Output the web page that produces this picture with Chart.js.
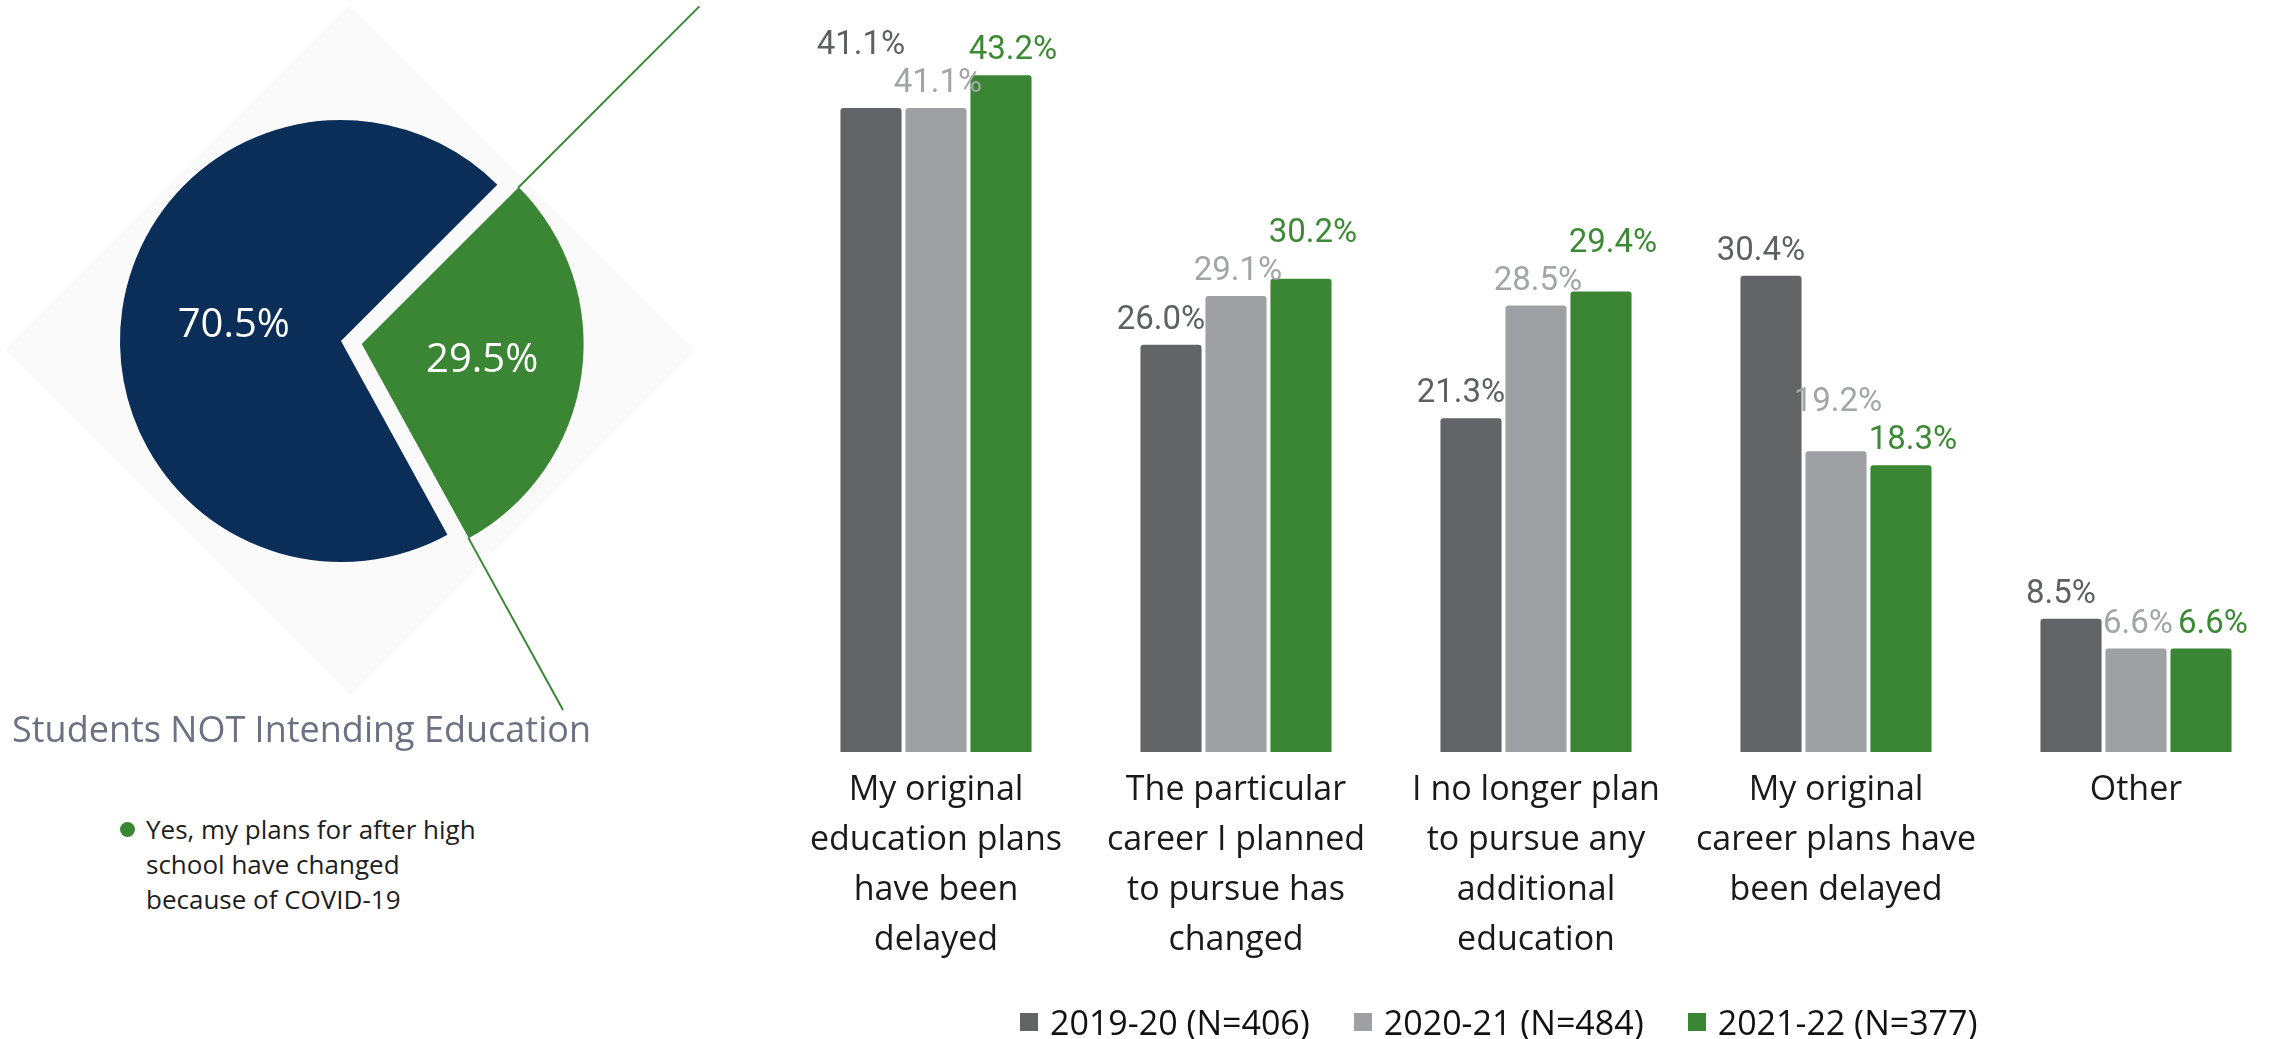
<!DOCTYPE html>
<html>
<head>
<meta charset="utf-8">
<script src="https://cdn.jsdelivr.net/npm/chart.js@4.4.0/dist/chart.umd.min.js"></script>
<style>
  html, body { margin: 0; padding: 0; background: #fff; }
  body { width: 2269px; height: 1039px; overflow: hidden; position: relative; font-family: "Open Sans", sans-serif; }
  .diamond { position: absolute; left: 106px; top: 106px; width: 488px; height: 488px; background: #fafafa; transform: rotate(45deg); }
  #pie { position: absolute; left: 0; top: 0; }
  #bars { position: absolute; left: 786px; top: 0; }
  .p-title { position: absolute; left: 12px; top: 704px; font-size: 36px; color: #6c7183; white-space: nowrap; }
  .p-legend { position: absolute; left: 146px; top: 812px; font-size: 26px; line-height: 35px; color: #1e1e1e; }
  .p-legend i { position: absolute; left: -26px; top: 10px; width: 15px; height: 15px; border-radius: 50%; background: #3b8635; }
  .b-legend { position: absolute; left: 1020px; top: 1002px; display: flex; gap: 44px; font-size: 34px; line-height: 40px; color: #111; white-space: nowrap; }
  .b-legend span { display: flex; align-items: center; }
  .b-legend i { display: inline-block; width: 18px; height: 18px; margin-right: 12px; }
</style>
</head>
<body>
<div class="diamond"></div>
<canvas id="pie" width="760" height="760"></canvas>
<canvas id="bars" width="1500" height="1039"></canvas>
<div class="p-title">Students NOT Intending Education</div>
<div class="p-legend" id="pie-legend"></div>
<div class="b-legend" id="bar-legend"></div>
<script>
  // 資料
  var pieLabels = ["Yes, my plans for after high school have changed because of COVID-19", "No"];
  var pieValues = [29.5, 70.5];

  var categories = [
    ["My original", "education plans", "have been", "delayed"],
    ["The particular", "career I planned", "to pursue has", "changed"],
    ["I no longer plan", "to pursue any", "additional", "education"],
    ["My original", "career plans have", "been delayed"],
    ["Other"]
  ];
  var seriesNames = ["2019-20 (N=406)", "2020-21 (N=484)", "2021-22 (N=377)"];
  var s2019 = [41.1, 26.0, 21.3, 30.4, 8.5];
  var s2020 = [41.1, 29.1, 28.5, 19.2, 6.6];
  var s2021 = [43.2, 30.2, 29.4, 18.3, 6.6];

  // 樣式
  var NAVY = "#0b2e59", GREEN = "#3b8635";
  var barColors = ["#636466", "#9fa0a3", GREEN];
  var labelColors = ["#5f6062", "#a3a5a8", "#3c8a35"];
  var labelShift = [-10, 2, 12];
  var pieLabelRadius = [0.55, 0.49];
  var connectorReach = [2.16, 1.89];

  Chart.defaults.font.family = "'Open Sans', sans-serif";

  // pie: value text + green connector lines
  var pieDeco = {
    id: "pieDeco",
    afterDatasetsDraw: function (chart) {
      var ctx = chart.ctx;
      var arcs = chart.getDatasetMeta(0).data;
      ctx.save();
      arcs.forEach(function (arc, i) {
        var p = arc.getProps(["x", "y", "startAngle", "endAngle", "outerRadius"], true);
        var mid = (p.startAngle + p.endAngle) / 2;
        var t = (arc.options.offset || 0) / 4;
        var cx = p.x + Math.cos(mid) * t, cy = p.y + Math.sin(mid) * t;
        var r = p.outerRadius * pieLabelRadius[i];
        ctx.fillStyle = "#fff";
        ctx.font = "40px 'Open Sans'";
        ctx.textAlign = "center";
        ctx.textBaseline = "middle";
        ctx.fillText(pieValues[i].toFixed(1) + "%", cx + Math.cos(mid) * r, cy + Math.sin(mid) * r);
        if (i === 0) {
          ctx.strokeStyle = GREEN;
          ctx.lineWidth = 2;
          [p.startAngle, p.endAngle].forEach(function (a, k) {
            ctx.beginPath();
            ctx.moveTo(cx + Math.cos(a) * p.outerRadius, cy + Math.sin(a) * p.outerRadius);
            ctx.lineTo(cx + Math.cos(a) * p.outerRadius * connectorReach[k], cy + Math.sin(a) * p.outerRadius * connectorReach[k]);
            ctx.stroke();
          });
        }
      });
      ctx.restore();
    }
  };

  new Chart(document.getElementById("pie"), {
    type: "pie",
    data: {
      labels: pieLabels,
      datasets: [{ data: pieValues, backgroundColor: [GREEN, NAVY], borderWidth: 0, offset: [84, 0] }]
    },
    options: {
      responsive: false,
      animation: false,
      rotation: 45,
      layout: { padding: { left: 78, top: 78, right: 156, bottom: 156 } },
      plugins: { legend: { display: false }, tooltip: { enabled: false } }
    },
    plugins: [pieDeco]
  });

  document.getElementById("pie-legend").innerHTML =
    '<i></i>Yes, my plans for after high<br>school have changed<br>because of COVID-19';

  // bars: value labels above each bar; when two neighbours collide, the taller bar's label goes up
  var barValues = {
    id: "barValues",
    afterDatasetsDraw: function (chart) {
      var ctx = chart.ctx;
      var sets = chart.data.datasets;
      ctx.save();
      ctx.font = "33px Roboto";
      ctx.textAlign = "center";
      ctx.textBaseline = "alphabetic";
      var n = sets[0].data.length;
      for (var i = 0; i < n; i++) {
        var items = sets.map(function (ds, di) {
          var bar = chart.getDatasetMeta(di).data[i];
          var txt = ds.data[i].toFixed(1) + "%";
          return { txt: txt, v: ds.data[i], x: bar.x + labelShift[di], y: bar.y - 16, w: ctx.measureText(txt).width, c: labelColors[di] };
        });
        for (var k = 0; k < items.length - 1; k++) {
          var a = items[k], b = items[k + 1];
          var xHit = Math.abs(a.x - b.x) < (a.w + b.w) / 2;
          var yHit = Math.abs(a.y - b.y) < 26;
          if (!xHit || !yHit) continue;
          if (b.v > a.v) b.y = Math.min(b.y, a.y - 38);
          else a.y = Math.min(a.y, b.y - 38);
        }
        items.forEach(function (it) {
          ctx.fillStyle = it.c;
          ctx.fillText(it.txt, it.x, it.y);
        });
      }
      ctx.restore();
    }
  };

  var series = [s2019, s2020, s2021];
  new Chart(document.getElementById("bars"), {
    type: "bar",
    data: {
      labels: categories,
      datasets: series.map(function (s, i) {
        return {
          label: seriesNames[i], data: s, backgroundColor: barColors[i],
          borderRadius: 3, categoryPercentage: 0.65, barPercentage: 0.94
        };
      })
    },
    options: {
      responsive: false,
      animation: false,
      layout: { padding: 0 },
      plugins: { legend: { display: false }, tooltip: { enabled: false } },
      scales: {
        y: { display: false, min: 0, max: 48 },
        x: {
          grid: { display: false, drawTicks: false },
          border: { display: false },
          ticks: { autoSkip: false, maxRotation: 0, padding: 13, color: "#1a1a1a", font: { size: 34, lineHeight: 50 / 34 } },
          afterFit: function (scale) { scale.height = 287; }
        }
      }
    },
    plugins: [barValues]
  });

  document.getElementById("bar-legend").innerHTML = seriesNames.map(function (n, i) {
    return '<span><i style="background:' + barColors[i] + '"></i>' + n + '</span>';
  }).join("");
</script>
</body>
</html>
